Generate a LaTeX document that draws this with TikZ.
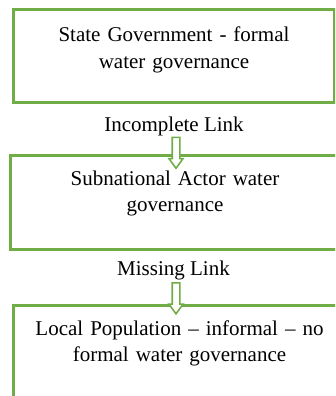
\documentclass[tikz,border=0pt]{standalone}
\usepackage{fontspec}
\setmainfont{Liberation Serif}
\usepackage{tikz}
\usetikzlibrary{calc}
\usetikzlibrary{positioning}
\usetikzlibrary{shapes.arrows}
\definecolor{govgreen}{RGB}{112,173,71}

\begin{document}
\begin{tikzpicture}
	[x=1pt,y=-1pt,
	 govbox/.style={draw=govgreen,line width=3pt,rectangle,inner sep=0pt},
	 boxtext/.style={font=\fontsize{21}{26.5}\selectfont,text width=310pt,align=center,inner sep=0pt,anchor=base},
	 linktext/.style={font=\fontsize{21}{26.5}\selectfont,inner sep=0pt,anchor=base},
	 linkarrow/.style={draw=govgreen,fill=white,line width=1.6pt,single arrow,rotate=-90,
	   inner sep=3pt,single arrow head extend=3.2pt,single arrow tip angle=72,
	   minimum height=31pt,anchor=tail}]
	\clip (0,0) rectangle (335,396);
	% boxes
	\node[govbox,minimum width=321pt,minimum height=92pt] (state) at (173.5,56) {};
	\node[govbox,minimum width=328pt,minimum height=94pt] (subnat) at (174,202) {};
	\node[govbox,minimum width=332pt,minimum height=95pt] (local) at (179,352.5) {};
	% texts
	\node[boxtext] (statetxt) at (174,41.7) {State Government - formal\\water governance};
	\node[boxtext] (subnattxt) at (175,185) {Subnational Actor water\\governance};
	\node[boxtext] (localtxt) at (179.5,335) {Local Population – informal – no\\formal water governance};
	% links
	\node[linktext] (incomplete) at (174,131.5) {Incomplete Link};
	\node[linktext] (missing) at (173.5,275) {Missing Link};
	\node[linkarrow] (arrowone) at ($(incomplete.base)+(2,5)$) {};
	\node[linkarrow] (arrowtwo) at ($(missing.base)+(2.5,7)$) {};
\end{tikzpicture}
\end{document}
